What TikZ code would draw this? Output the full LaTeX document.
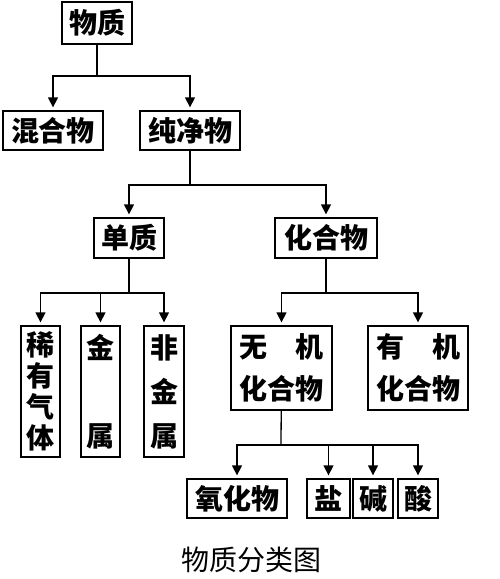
\documentclass[tikz,border=0pt]{standalone}
\usepackage{fontspec}
\newfontfamily\cjk{Noto Sans CJK SC}
\usetikzlibrary{arrows.meta, positioning}
\newcommand{\boxfont}{\cjk\bfseries\fontsize{28}{31}\selectfont}

\begin{document}
\begin{tikzpicture}[x=1pt, y=-1pt,
            box/.style={draw, line width=1.3pt, inner sep=0pt, align=center, font=\boxfont},
            wide/.style={box, minimum width=100pt, minimum height=39pt},
            tall/.style={box, minimum width=39pt, minimum height=131pt},
            link/.style={line width=1.3pt},
            arrow/.style={link, -{Triangle[length=10pt, width=10pt]}, shorten >=3pt}]
            \useasboundingbox (0,0) rectangle (500,579);
            % top levels
            \node[box, minimum width=70pt, minimum height=42pt] (wuzhi) at (97,23) {物质};
            \node[wide] (hunhe) at (53,130.5) {混合物};
            \node[wide] (chunjing) at (190,130.5) {纯净物};
            \node[box, minimum width=70pt, minimum height=40pt] (danzhi) at (129,238) {单质};
            \node[box, minimum width=102pt, minimum height=40pt] (huahe) at (326,238) {化合物};
            % elements
            \node[tall] (xiyou) at (40.5,391.5) {稀\\有\\气\\体};
            \node[tall] (jinshu) at (100.5,391.5) {金\\[57pt]属};
            \node[tall, minimum width=40pt] (feijin) at (164,391.5) {非\\[13pt]金\\[13pt]属};
            % compounds
            \node[box, minimum width=101pt, minimum height=84pt] (wuji) at (281.5,368) {无\quad 机\\[11pt]化合物};
            \node[box, minimum width=100pt, minimum height=84pt] (youji) at (418,368) {有\quad 机\\[11pt]化合物};
            \node[wide] (yanghua) at (237,498.5) {氧化物};
            \node[box, minimum width=43pt, minimum height=39pt] (yan) at (328.5,498.5) {盐};
            \node[box, minimum width=40pt, minimum height=39pt] (jian) at (373,498.5) {碱};
            \node[box, minimum width=40pt, minimum height=39pt] (suan) at (418,498.5) {酸};
            \node[font=\cjk\fontsize{28}{30}\selectfont] (title) at (251.5,560) {物质分类图};

            % branch points
            \coordinate (b1) at (97,76);
            \coordinate (b2) at (190,185);
            \coordinate (b3) at (129,293);
            \coordinate (b4) at (326,293);
            \coordinate (b5) at (281,445);

            \draw[link] (wuzhi) -- (b1);
            \draw[arrow] (b1) -| (hunhe);
            \draw[arrow] (b1) -| (chunjing);
            \draw[link] (chunjing) -- (b2);
            \draw[arrow] (b2) -| (danzhi);
            \draw[arrow] (b2) -| (huahe);
            \draw[link] (danzhi) -- (b3);
            \draw[arrow] (b3) -| (xiyou);
            \draw[arrow] (b3) -| (jinshu);
            \draw[arrow] (b3) -| (feijin);
            \draw[link] (huahe) -- (b4);
            \draw[arrow] (b4) -| (wuji);
            \draw[arrow] (b4) -| (youji);
            \draw[link] (wuji) -- (b5);
            \draw[arrow] (b5) -| (yanghua);
            \draw[arrow] (b5) -| (yan);
            \draw[arrow] (b5) -| (jian);
            \draw[arrow] (b5) -| (suan);
        \end{tikzpicture}
\end{document}
